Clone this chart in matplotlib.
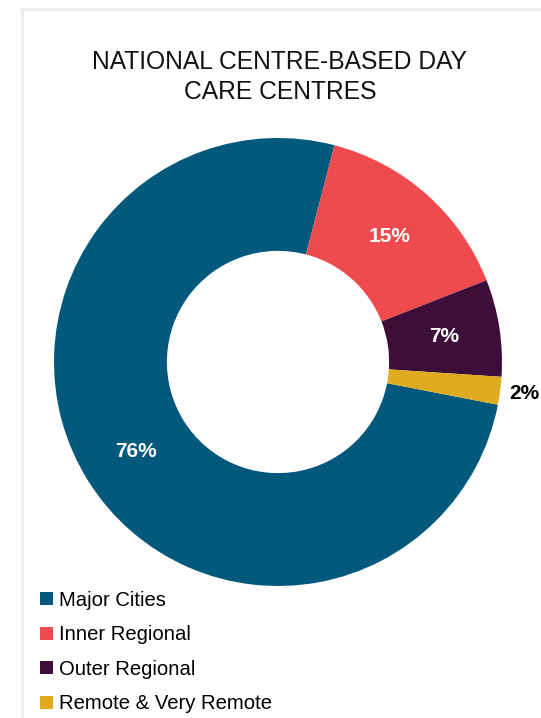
import numpy as np
import matplotlib
matplotlib.use('Agg')
import matplotlib.pyplot as plt
from matplotlib.lines import Line2D

# Share of centres by remoteness area
categories = ['Major Cities', 'Inner Regional', 'Outer Regional', 'Remote & Very Remote']
shares = [76, 15, 7, 2]
share_labels = ['76%', '15%', '7%', '2%']
colors = ['#02597b', '#ef4b4f', '#3e0e3b', '#e0ab21']
title = 'NATIONAL CENTRE-BASED DAY\nCARE CENTRES'


def main():
    plt.rcParams['font.family'] = ['Liberation Sans', 'DejaVu Sans']
    W, H = 541, 718
    fig = plt.figure(figsize=(W / 100, H / 100), dpi=100)
    fig.patch.set_facecolor('white')

    # light card edge along the top and left
    fig.add_artist(Line2D([21 / W, 1], [1 - 9 / H, 1 - 9 / H],
                          transform=fig.transFigure, color='#eeeeee', lw=2.4))
    fig.add_artist(Line2D([22 / W, 22 / W], [1 - 9 / H, 0],
                          transform=fig.transFigure, color='#eeeeee', lw=2.4))

    fig.text(280 / W, 1 - 77 / H, title, ha='center', va='center',
             fontsize=17.7, color='#111111', linespacing=1.28)

    # donut, centre at (278, 362) px, outer radius 224 px
    cx, cy, r = 278, 362, 224
    ax = fig.add_axes([(cx - r) / W, (H - cy - r) / H, 2 * r / W, 2 * r / H])
    wedges, _ = ax.pie(shares, colors=colors, startangle=-11, counterclock=False,
                       radius=1, wedgeprops=dict(width=0.504, linewidth=0))
    ax.set_xlim(-1, 1)
    ax.set_ylim(-1, 1)
    ax.set_aspect('equal')
    ax.axis('off')

    for w, lab in zip(wedges, share_labels):
        mid = np.radians((w.theta1 + w.theta2) / 2)
        if lab == '2%':
            dist, col = 1.107, 'black'
        else:
            dist, col = 0.75, 'white'
        ax.text(dist * np.cos(mid), dist * np.sin(mid), lab, ha='center', va='center',
                fontsize=15, fontweight='bold', color=col, clip_on=False)

    fig.legend(wedges, categories, loc='upper left', bbox_to_anchor=(40 / W, 1 - 591 / H),
               frameon=False, fontsize=14.6, handlelength=0.62, handleheight=0.62,
               handletextpad=0.3, labelspacing=0.76, borderaxespad=0, borderpad=0)

    fig.savefig('out.png', dpi=100)


if __name__ == '__main__':
    main()
